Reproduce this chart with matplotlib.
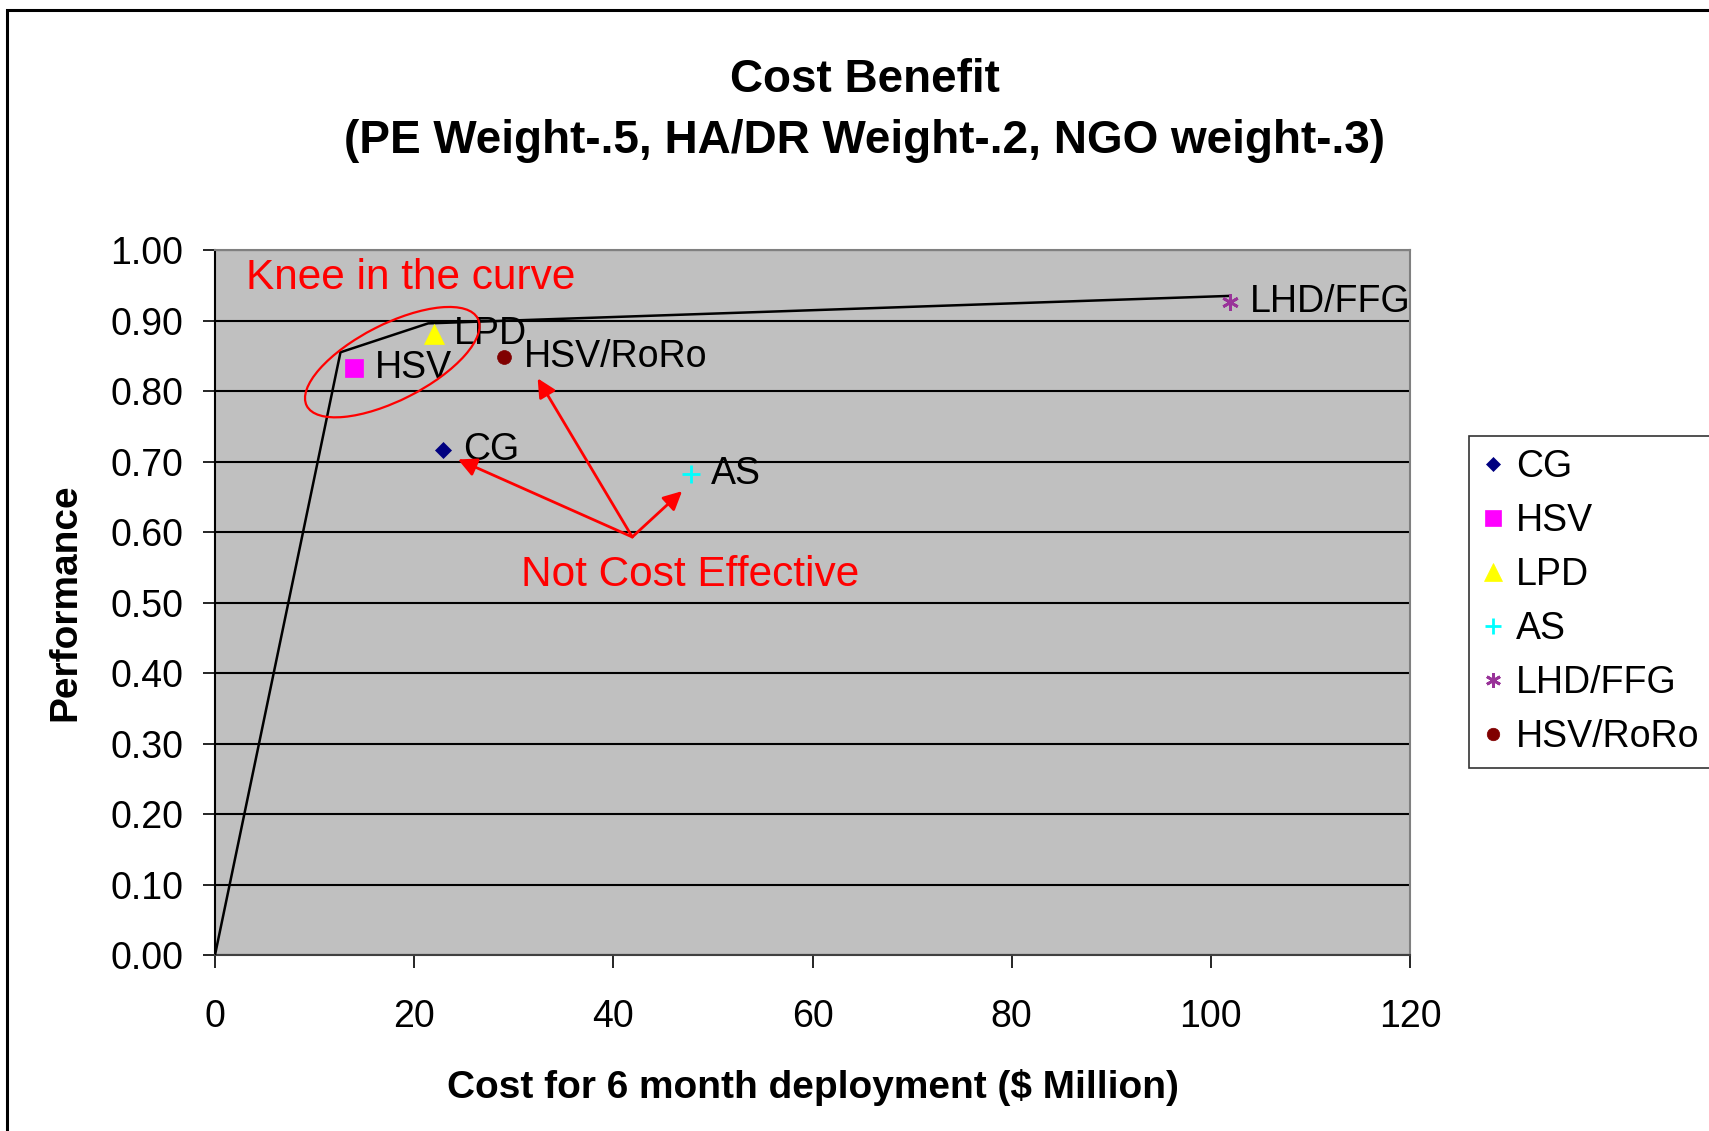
import matplotlib
matplotlib.use("Agg")
import matplotlib.pyplot as plt
from matplotlib.patches import Ellipse, Rectangle
from matplotlib.transforms import ScaledTranslation

plt.rcParams['font.family'] = ['Liberation Sans', 'DejaVu Sans']

# ships: cost ($ million) and performance
names = ["CG", "HSV", "LPD", "AS", "LHD/FFG", "HSV/RoRo"]
cost = [22.9, 14.0, 22.0, 47.8, 101.9, 29.0]
perf = [0.717, 0.833, 0.881, 0.682, 0.927, 0.849]
colors = ["#000080", "#FF00FF", "#FFFF00", "#00FFFF", "#993399", "#800000"]
markers = ["D", "s", "^", "+", (6, 2, 0), "o"]
msizes = [8, 12.5, 15, 13, 12, 10]

# efficient frontier
front_x = [0, 12.6, 21.4, 101.9]
front_y = [0, 0.855, 0.896, 0.935]

# "not cost effective" arrows
arrow_from = (41.9, 0.593)
arrow_to = [(24.4, 0.703), (32.4, 0.818), (46.9, 0.658)]

fig = plt.figure(figsize=(17.09, 11.31), dpi=100)
ax = fig.add_axes([0.1258, 0.1556, 0.6993, 0.6233])
ax.set_facecolor("#C0C0C0")

ax.plot(front_x, front_y, color="black", lw=1.8, zorder=3)

for n, x, y, c, m, s in zip(names, cost, perf, colors, markers, msizes):
    lw = 2 if m in ("+", (6, 2, 0)) else 0.5
    ax.plot([x], [y], linestyle="none", marker=m, color=c, markersize=s,
            markeredgewidth=lw, label=n, zorder=4)
    ax.annotate(n, (x, y), xytext=(14.5, 0), textcoords="offset points",
                va="center", ha="left", fontsize=27, zorder=5)

ax.set_xlim(0, 120)
ax.set_ylim(0, 1.0)
ax.set_xticks(range(0, 121, 20))
ax.set_yticks([i / 10 for i in range(11)])
ax.set_yticklabels(["%.2f" % (i / 10) for i in range(11)])
ax.yaxis.grid(True, color="black", lw=1.5)
ax.set_axisbelow(True)
ax.tick_params(axis="both", labelsize=27, length=9, width=1.2, direction="out")
ax.tick_params(axis="y", pad=14)
ax.tick_params(axis="x", pad=22.5)

for side in ("top", "right"):
    ax.spines[side].set_color("#808080")
ax.spines["left"].set_color("black")
ax.spines["bottom"].set_color("#404040")
for sp in ax.spines.values():
    sp.set_linewidth(1.5)

ax.set_xlabel("Cost for 6 month deployment ($ Million)", fontsize=28,
              fontweight="bold", va="center")
ax.xaxis.set_label_coords(0.5, -0.188)
ax.set_ylabel("Performance", fontsize=28, fontweight="bold", va="center")
ax.yaxis.set_label_coords(-0.1255, 0.5)

# annotations
ax.text(3.1, 0.961, "Knee in the curve", color="red", fontsize=30.5,
        va="center", ha="left")
tr = fig.dpi_scale_trans + ScaledTranslation(17.8, 0.841, ax.transData)
ax.add_patch(Ellipse((0, 0), 1.92, 0.76, angle=27, fill=False, ec="red",
                     lw=1.6, transform=tr, zorder=5))
ax.text(30.7, 0.539, "Not Cost Effective", color="red", fontsize=30.5,
        va="center", ha="left")
for tx, ty in arrow_to:
    ax.annotate("", xy=(tx, ty), xytext=arrow_from,
                arrowprops=dict(arrowstyle="-|>", color="red", lw=2,
                                mutation_scale=28, shrinkA=0, shrinkB=0),
                zorder=6)

# titles
fig.text(0.506, 1 - 80 / 1131, "Cost Benefit", fontsize=33, fontweight="bold",
         ha="center", va="center")
fig.text(0.506, 1 - 141 / 1131, "(PE Weight-.5, HA/DR Weight-.2, NGO weight-.3)",
         fontsize=33, fontweight="bold", ha="center", va="center")

leg = fig.legend(loc="upper left", bbox_to_anchor=(1469 / 1709, 1 - 436 / 1131),
                 fontsize=27, frameon=True, fancybox=False, edgecolor="black",
                 handlelength=0.6, handletextpad=0.3, labelspacing=0.48,
                 borderpad=0.35, borderaxespad=0, markerscale=0.9)
leg.get_frame().set_linewidth(1.2)

# outer chart frame
fig.patches.append(Rectangle((7 / 1709, -0.1), 2, 1.1 - 10 / 1131, fill=False,
                             ec="black", lw=2.2, transform=fig.transFigure))

fig.savefig("out.png", dpi=100, facecolor="white")
